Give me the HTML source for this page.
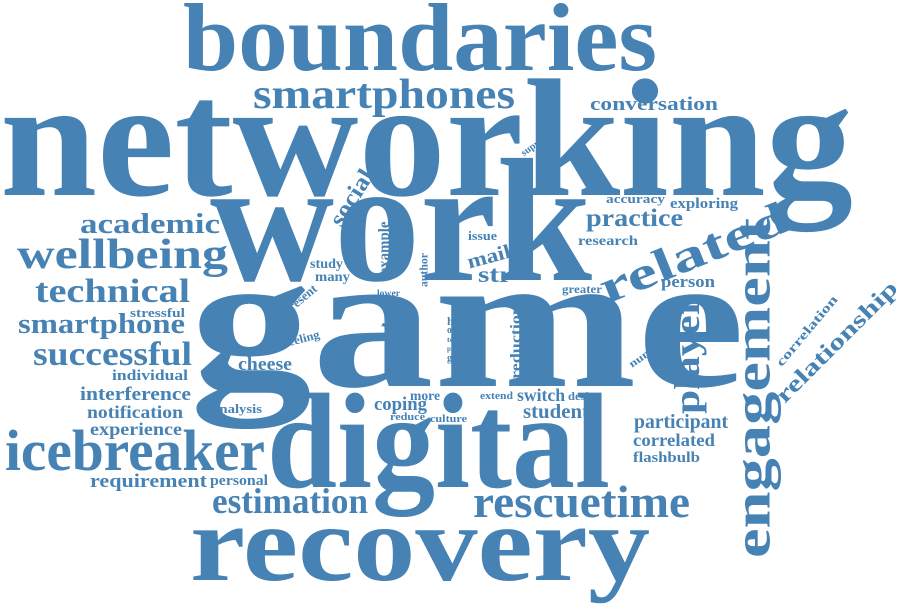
<!DOCTYPE html>
<html><head><meta charset="utf-8"><style>
html,body{margin:0;padding:0;background:#fff;}
svg{display:block;}
text{font-family:"Liberation Serif",serif;font-weight:bold;fill:#4682b4;}
</style></head><body>
<svg width="900" height="611" viewBox="0 0 900 611" id="cloud"></svg>
<script>
// [word, x-left or center, baseline or center y, width, font-size, rotation]
const words = [
 ["boundaries",183,70,474,96,0],
 ["networking",0,195,853,168,0],
 ["smartphones",253,108,262,42,0],
 ["conversation",590,110,128,19,0],
 ["work",210,280,382,176,0],
 ["game",190,386,555,195,0],
 ["digital",267,487,343,136,0],
 ["recovery",190,580,460,108,0],
 ["academic",80,233,140,28,0],
 ["wellbeing",17,268,211,42,0],
 ["technical",35,302,155,34,0],
 ["stressful",130,317,55,13,0],
 ["smartphone",18,333,167,29,0],
 ["successful",33,365,159,34,0],
 ["individual",112,380,76,15,0],
 ["interference",80,400,111,19,0],
 ["notification",87,418,96,18,0],
 ["experience",90,435,92,18,0],
 ["icebreaker",5,470,260,58,0],
 ["requirement",90,487,117,19,0],
 ["personal",210,485,58,15,0],
 ["estimation",212,513,156,36,0],
 ["rescuetime",473,517,217,46,0],
 ["cheese",238,370,54,19,0],
 ["analysis",212,413,50,13,0],
 ["study",310,268,33,14,0],
 ["many",315,281,35,14,0],
 ["lower",377,296,23,9,0],
 ["acc",384,306,8,5,0],
 ["post",390,330,22,12,0],
 ["issue",468,240,29,13,0],
 ["str",478,282,34,23,0],
 ["hour",447,325,25,12,0],
 ["order",447,333,23,10,0],
 ["total",447,342,16,7,0],
 ["part",447,351,13,7,0],
 ["genre",447,361,25,10,0],
 ["more",410,400,30,14,0],
 ["coping",374,410,53,19,0],
 ["reduce",390,420,35,11,0],
 ["culture",430,422,37,11,0],
 ["extend",480,399,33,11,0],
 ["switch",517,401,48,18,0],
 ["design",568,400,34,12,0],
 ["student",523,418,66,20,0],
 ["accuracy",606,203,59,13,0],
 ["exploring",670,208,68,15,0],
 ["practice",586,226,97,25,0],
 ["research",578,245,60,14,0],
 ["person",661,287,54,17,0],
 ["greater",562,293,40,12,0],
 ["participant",634,428,94,20,0],
 ["correlated",633,446,82,18,0],
 ["flashbulb",633,462,67,15,0],
 // rotated: center x, center y
 ["social",352,198,62,24,-58],
 ["example",384,248,53,16,-90],
 ["author",424,270,34,12,-90],
 ["present",300,300,40,13,-40],
 ["life",393,317,28,17,-65],
 ["sense",402,341,28,10,-40],
 ["factor",402,358,30,10,-40],
 ["feeling",302,339,36,12,-15],
 ["mail",489,257,44,20,-15],
 ["vital",461,306,15,6,-70],
 ["reduction",516,342,74,15,-90],
 ["support",536,144,34,10,-35],
 ["related",694,254,200,46,-22],
 ["player",688,355,118,36,-90],
 ["engagement",754,388,340,52,-90],
 ["correlation",807,331,88,13,-50],
 ["relationship",837,342,162,23,-45],
 ["number",649,352,46,11,-35]
];
const svg = document.getElementById('cloud');
const NS = 'http://www.w3.org/2000/svg';
words.forEach(w => {
  const t = document.createElementNS(NS, 'text');
  t.textContent = w[0];
  t.setAttribute('font-size', w[4]);
  t.setAttribute('textLength', w[3]);
  t.setAttribute('lengthAdjust', 'spacingAndGlyphs');
  if (w[5] === 0) {
    t.setAttribute('x', w[1]);
    t.setAttribute('y', w[2]);
  } else {
    t.setAttribute('x', 0);
    t.setAttribute('y', w[4] * 0.3);
    t.setAttribute('text-anchor', 'middle');
    t.setAttribute('transform', 'translate(' + w[1] + ',' + w[2] + ') rotate(' + w[5] + ')');
  }
  
  
  svg.appendChild(t);
});
</script>
</body></html>
